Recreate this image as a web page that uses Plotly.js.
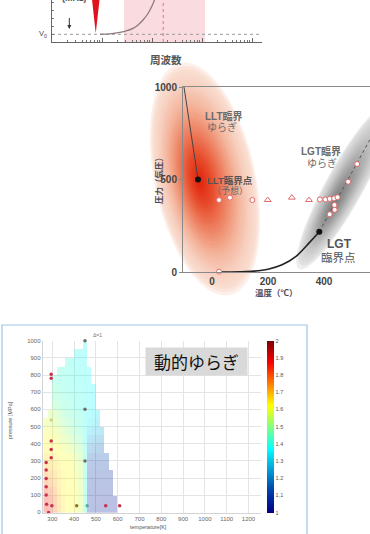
<!DOCTYPE html>
<html><head><meta charset="utf-8">
<script src="https://cdn.plot.ly/plotly-3.0.1.min.js"></script>
<style>html,body{margin:0;padding:0;background:#fff}#chart{width:370px;height:534px}</style>
</head><body><div id="chart"></div>
<script>
const W = 370, H = 534;
const FONT = 'Liberation Sans, Arial, "Noto Sans CJK JP", sans-serif';
const JP = '"Noto Sans CJK JP", sans-serif';

// ---------- data: top panel (spectrum vs frequency) ----------
const topSpikeFreq = [6.2, 7.5, 9.1];
const topSpikeAmp  = [46, 8.7, 46];
const topCurveFreq = [9.1, 14.5, 22.9, 31.6, 41.7, 52.5, 66.1, 79.4, 91.2, 102, 112, 120];
const topCurveAmp  = [7.8, 8.2, 9.6, 11.3, 13.6, 17, 22, 27, 32, 37, 42, 45];

// ---------- data: middle panel (phase diagram, temperature °C vs pressure atm) ----------
const vapTemp = [22, 100, 150, 200, 250, 300, 350, 383];
const vapPres = [0.03, 1, 4.7, 15.3, 39.2, 84.8, 163, 218];
const lltLineTemp = [-100, -50];
const lltLinePres = [1000, 500];
const widomTemp = [383, 600];
const widomPres = [218, 816];
const critTemp = [-50, 383];
const critPres = [500, 218];
const circTemp = [25, 64, 144, 385, 405, 420, 436, 448, 437, 438, 420, 486, 518, 25];
const circPres = [389, 402, 389, 392, 392, 395, 398, 404, 362, 336, 312, 488, 584, 2];
const triTemp = [199, 285, 346];
const triPres = [389, 402, 389];
const midTempTicks = [0, 200, 400];
const midPresTicks = [0, 500, 1000];

// ---------- data: bottom panel (dynamic fluctuation map, K vs MPa) ----------
const gridTemp = [270, 290, 310, 330, 350, 370, 390, 410, 430, 450, 470, 490, 510, 530, 550, 570, 590, 610];
const gridPres = [25, 75, 125, 175, 225, 275, 325, 375, 425, 475, 525, 575, 625, 675, 725, 775, 825, 875, 925, 975];
const n = null;
const dynFluct = [
 [1.86,1.84,1.78,1.70,1.65,1.63,1.63,1.62,1.57,1.42,1.08,1.07,1.06,1.06,1.06,1.06,1.06,n],
 [1.85,1.83,1.77,1.70,1.65,1.63,1.63,1.62,1.57,1.42,1.08,1.07,1.07,1.06,1.06,1.06,1.06,n],
 [1.83,1.80,1.75,1.68,1.64,1.63,1.62,1.62,1.57,1.42,1.09,1.08,1.07,1.07,1.07,1.07,n,n],
 [1.78,1.75,1.72,1.67,1.64,1.63,1.62,1.62,1.56,1.42,1.10,1.09,1.08,1.08,1.08,1.08,n,n],
 [1.74,1.72,1.70,1.66,1.64,1.63,1.62,1.61,1.56,1.42,1.11,1.10,1.09,1.09,1.09,1.09,n,n],
 [1.70,1.69,1.67,1.65,1.63,1.62,1.61,1.60,1.55,1.42,1.13,1.12,1.11,1.11,1.11,n,n,n],
 [1.67,1.66,1.65,1.63,1.62,1.61,1.60,1.58,1.53,1.41,1.16,1.15,1.14,1.14,1.14,n,n,n],
 [1.64,1.64,1.63,1.62,1.60,1.58,1.56,1.54,1.50,1.40,1.21,1.19,1.18,1.17,n,n,n,n],
 [1.62,1.62,1.61,1.59,1.57,1.55,1.52,1.50,1.46,1.39,1.26,1.24,1.23,1.22,n,n,n,n],
 [1.60,1.60,1.59,1.57,1.54,1.51,1.49,1.47,1.44,1.39,1.31,1.29,1.28,1.27,n,n,n,n],
 [1.58,1.58,1.56,1.53,1.50,1.48,1.46,1.44,1.42,1.39,1.35,1.33,1.32,n,n,n,n,n],
 [n,1.56,1.54,1.50,1.47,1.45,1.44,1.43,1.41,1.39,1.37,1.35,1.34,n,n,n,n,n],
 [n,n,1.48,1.46,1.44,1.43,1.42,1.41,1.40,1.39,1.38,1.37,n,n,n,n,n,n],
 [n,n,1.45,1.44,1.43,1.42,1.41,1.41,1.40,1.39,1.38,1.37,n,n,n,n,n,n],
 [n,n,1.44,1.43,1.42,1.41,1.41,1.40,1.40,1.39,1.38,1.38,n,n,n,n,n,n],
 [n,n,1.43,1.42,1.42,1.41,1.40,1.40,1.39,1.39,1.38,n,n,n,n,n,n,n],
 [n,n,n,1.42,1.41,1.41,1.40,1.40,1.39,1.39,1.38,n,n,n,n,n,n,n],
 [n,n,n,n,n,1.41,1.40,1.40,1.39,1.39,n,n,n,n,n,n,n,n],
 [n,n,n,n,n,n,n,1.40,1.39,1.39,n,n,n,n,n,n,n,n],
 [n,n,n,n,n,n,n,n,n,1.39,n,n,n,n,n,n,n,n]
];
const redPtTemp = [295, 295, 295, 295, 295, 272, 272, 272, 272, 272, 274, 283, 298, 545, 609];
const redPtPres = [805, 781, 416, 367, 318, 291, 247, 198, 150, 101, 48, 0, 38, 38, 38];
const grayPtTemp = [450, 450, 450];
const grayPtPres = [1000, 600, 300];
const otherPtTemp = [295, 412, 460];
const otherPtPres = [538, 38, 38];
const otherPtColor = ['#d0d488', '#8a7a22', '#5aa8a8'];
const botTempTicks = [300, 400, 500, 600, 700, 800, 900, 1000, 1100, 1200];
const botPresTicks = [0, 100, 200, 300, 400, 500, 600, 700, 800, 900, 1000];
const cbTicks = [1, 1.1, 1.2, 1.3, 1.4, 1.5, 1.6, 1.7, 1.8, 1.9, 2];

// ---------- helpers (pixel -> paper) ----------
const PX = x => x / W, PY = y => 1 - y / H;
function ellPath(cx, cy, a, b, angDeg) {
  const A = angDeg * Math.PI / 180, N = 72; let d = '';
  for (let i = 0; i <= N; i++) {
    const t = 2 * Math.PI * i / N, ex = a * Math.cos(t), ey = b * Math.sin(t);
    const x = cx + ex * Math.cos(A) - ey * Math.sin(A);
    const y = cy + ex * Math.sin(A) + ey * Math.cos(A);
    d += (i ? 'L' : 'M') + PX(x).toFixed(5) + ',' + PY(y).toFixed(5);
  }
  return d + 'Z';
}
function colAt(stops, s) {
  for (let i = 0; i < stops.length - 1; i++) {
    const [s0, c0] = stops[i], [s1, c1] = stops[i + 1];
    if (s <= s0 && s >= s1) {
      const t = (s0 - s) / (s0 - s1);
      return 'rgb(' + c0.map((v, k) => Math.round(v + (c1[k] - v) * t)).join(',') + ')';
    }
  }
  const c = s > stops[0][0] ? stops[0][1] : stops[stops.length - 1][1];
  return 'rgb(' + c.join(',') + ')';
}
function glow(C, Hs, a, b, ang, stops, layers, sMax) {
  const out = [];
  for (let i = 0; i < layers; i++) {
    const s = sMax - (sMax - 0.03) * i / (layers - 1);
    const f = Math.min(s, 1);
    const cx = Hs[0] + (C[0] - Hs[0]) * f, cy = Hs[1] + (C[1] - Hs[1]) * f;
    out.push({type: 'path', xref: 'paper', yref: 'paper', layer: 'below',
      path: ellPath(cx, cy, a * s, b * s, ang), fillcolor: colAt(stops, s), line: {width: 0}});
  }
  return out;
}
const redStops = [[1.05,[253,240,234]],[1,[249,223,210]],[0.85,[247,206,189]],[0.7,[244,182,158]],[0.55,[240,150,120]],[0.4,[236,114,82]],[0.25,[231,78,46]],[0.1,[226,48,22]],[0,[222,34,14]]];
const grayStops = [[1.05,[238,238,238]],[1,[224,224,224]],[0.75,[200,200,200]],[0.5,[170,170,170]],[0.25,[142,142,142]],[0,[122,122,122]]];

const shapes = [
  {type:'rect', xref:'paper', yref:'paper', layer:'below', x0:PX(2), x1:PX(307), y0:-0.1, y1:PY(325),
   fillcolor:'#ffffff', line:{color:'rgb(160,196,230)', width:1.2}},
  {type:'rect', xref:'paper', yref:'paper', layer:'below', x0:PX(124), x1:PX(205), y0:PY(42), y1:1.05,
   fillcolor:'rgb(250,219,223)', line:{width:0}},
  {type:'line', xref:'paper', yref:'paper', layer:'below', x0:PX(163.3), x1:PX(163.3), y0:PY(42), y1:1.02,
   line:{color:'rgb(226,150,168)', width:1.5, dash:'dot'}},
  {type:'line', xref:'paper', yref:'paper', layer:'below', x0:PX(52), x1:PX(262), y0:PY(34.3), y1:PY(34.3),
   line:{color:'#9a9a9a', width:1, dash:'dot'}},
  ...glow([205,179],[199,181],113,48,78,redStops,34,1.05),
  ...glow([344.6,186.2],[333,206],90,18,-61.2,grayStops,22,1.05)
];

function ann(text, x, y, size, color, extra) {
  return Object.assign({text, xref:'paper', yref:'paper', x:PX(x), y:PY(y), showarrow:false,
    xanchor:'center', yanchor:'middle', font:{family:FONT, size, color}}, extra || {});
}
const annotations = [
  ann('<b>(MHz)</b>', 74, -1.5, 9, '#555'),
  ann('V<sub>0</sub>', 43, 34.5, 7.5, '#444'),
  {text:' ', xref:'paper', yref:'paper', x:PX(69.3), y:PY(29), ax:0, ay:-15, showarrow:true,
   arrowhead:2, arrowsize:0.8, arrowwidth:1, arrowcolor:'#333', font:{size:4}},
  ann('<b>周波数</b>', 165.5, 60, 10.5, '#555'),
  ann('<b>LLT臨界</b>', 223.5, 116, 10, '#6a6a6a'),
  ann('ゆらぎ', 221.5, 127.5, 10, '#6a6a6a'),
  ann('<b>LLT臨界点</b>', 229.5, 180.5, 9.5, '#555'),
  ann('（予想）', 229.5, 190.5, 9, '#666'),
  ann('<b>LGT臨界</b>', 320.5, 151, 10, '#6a6a6a'),
  ann('ゆらぎ', 321.5, 162.5, 10, '#6a6a6a'),
  ann('<b>LGT</b>', 339, 243.5, 12, '#555'),
  ann('臨界点', 338.5, 258, 11.5, '#555'),
  ann('<b>圧力（気圧）</b>', 159, 179, 8.5, '#4a4a5a', {textangle:-90}),
  ann('<b>温度（℃）</b>', 276.5, 292.5, 8.5, '#4a4a5a'),
  ann('pressure [MPa]', 10, 420, 5.5, '#555', {textangle:-90}),
  ann('temperature[K]', 148, 527, 5.5, '#555'),
  ann('Δ=1', 97.5, 335, 5, '#777'),
  Object.assign(ann('動的ゆらぎ', 196.5, 361.5, 17, '#111'),
    {bgcolor:'#d9d9d9', width:101, height:27, borderpad:0, font:{family:JP, size:17, color:'#111'}})
];

const traces = [
  // top panel
  {x:topSpikeFreq, y:topSpikeAmp, xaxis:'x', yaxis:'y', mode:'lines', fill:'toself',
   fillcolor:'#e0101c', line:{width:0, color:'#e0101c'}, hoverinfo:'skip'},
  {x:topCurveFreq, y:topCurveAmp, xaxis:'x', yaxis:'y', mode:'lines', line:{color:'#8b7b7b', width:1.3, shape:'spline'}, hoverinfo:'skip'},
  // middle panel
  {x:vapTemp, y:vapPres, xaxis:'x2', yaxis:'y2', mode:'lines', line:{color:'#222', width:1.6, shape:'spline'}},
  {x:lltLineTemp, y:lltLinePres, xaxis:'x2', yaxis:'y2', mode:'lines', line:{color:'#444', width:1}},
  {x:widomTemp, y:widomPres, xaxis:'x2', yaxis:'y2', mode:'lines', line:{color:'#555', width:1, dash:'dot'}},
  {x:circTemp, y:circPres, xaxis:'x2', yaxis:'y2', mode:'markers', cliponaxis:false,
   marker:{symbol:'circle', size:5, color:'#fff', line:{color:'#e06a6a', width:1}}},
  {x:triTemp, y:triPres, xaxis:'x2', yaxis:'y2', mode:'markers',
   marker:{symbol:'triangle-up', size:6, color:'#fff', line:{color:'#e06a6a', width:1}}},
  {x:critTemp, y:critPres, xaxis:'x2', yaxis:'y2', mode:'markers', marker:{size:6, color:'#111'}},
  // bottom panel
  {type:'heatmap', x:gridTemp, y:gridPres, z:dynFluct, xaxis:'x3', yaxis:'y3', zmin:1, zmax:2,
   colorscale:'Jet', opacity:0.27, hoverinfo:'skip',
   colorbar:{x:PX(267.3), xanchor:'left', y:PY(426.7), yanchor:'middle', len:172, lenmode:'pixels',
     thickness:7, thicknessmode:'pixels', outlinewidth:0, xpad:0, ypad:0, tickvals:cbTicks,
     ticktext:cbTicks.map(String), ticks:'', tickfont:{family:FONT, size:5.5, color:'#555'}}},
  {x:redPtTemp, y:redPtPres, xaxis:'x3', yaxis:'y3', mode:'markers', cliponaxis:false,
   marker:{size:3.5, color:'#c8324e'}},
  {x:grayPtTemp, y:grayPtPres, xaxis:'x3', yaxis:'y3', mode:'markers', cliponaxis:false,
   marker:{size:3.5, color:'#6e6e6e'}},
  {x:otherPtTemp, y:otherPtPres, xaxis:'x3', yaxis:'y3', mode:'markers', cliponaxis:false,
   marker:{size:3.5, color:otherPtColor}}
];

const botAxis = {showgrid:true, gridcolor:'#e4e4e4', gridwidth:1, zeroline:false, showline:true,
  linecolor:'#d4d4d4', ticks:'', tickfont:{family:FONT, size:6, color:'#666'}, layer:'above traces'};

const layout = {
  width:W, height:H, margin:{l:0, r:0, t:0, b:0}, showlegend:false,
  paper_bgcolor:'#ffffff', plot_bgcolor:'rgba(0,0,0,0)', font:{family:FONT},
  xaxis:{domain:[PX(52), PX(262)], type:'log', range:[0, 4.2], anchor:'y', showline:true, linecolor:'#666',
    linewidth:1.2, showgrid:false, zeroline:false, showticklabels:false, ticks:'inside', ticklen:4,
    tickcolor:'#666', dtick:1, minor:{ticks:'inside', ticklen:2, tickcolor:'#777', dtick:'D1'}},
  yaxis:{domain:[PY(42), 1], range:[0, 42], anchor:'x', showline:true, linecolor:'#666', linewidth:1.2,
    showgrid:false, zeroline:false, showticklabels:false, ticks:'inside', ticklen:2, tickcolor:'#777', dtick:8},
  xaxis2:{domain:[PX(183), 1], range:[-103.6, 564], anchor:'y2', showline:true, mirror:true,
    linecolor:'#8a8a8a', linewidth:1, showgrid:false, zeroline:false, tickvals:midTempTicks, ticks:'',
    tickfont:{family:FONT, size:10, color:'#444', weight:'bold'}},
  yaxis2:{domain:[PY(272), PY(87)], range:[0, 1000], anchor:'x2', showline:true, linecolor:'#8a8a8a',
    linewidth:1, showgrid:false, zeroline:false, tickvals:midPresTicks, ticks:'outside', ticklen:3,
    tickcolor:'#8a8a8a', tickfont:{family:FONT, size:10, color:'#444', weight:'bold'}},
  xaxis3:Object.assign({domain:[PX(42.7), PX(260.7)], range:[256, 1256], anchor:'y3', tickvals:botTempTicks}, botAxis),
  yaxis3:Object.assign({domain:[PY(512.9), PY(340.7)], range:[-3, 1000], anchor:'x3', tickvals:botPresTicks}, botAxis),
  shapes, annotations
};

Plotly.newPlot('chart', traces, layout, {displayModeBar:false, staticPlot:true});
</script></body></html>
